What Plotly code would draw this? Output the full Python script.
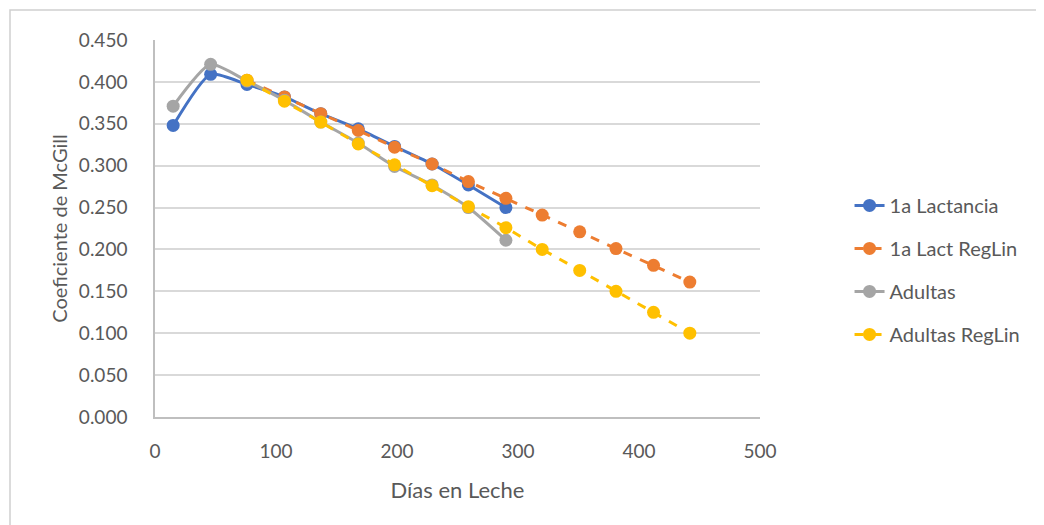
import plotly.graph_objects as go

days_obs = [15, 46, 76, 107, 137, 168, 198, 229, 259, 290]
days_reg = [76, 107, 137, 168, 198, 229, 259, 290, 320, 351, 381, 412, 442]

lact1 = [0.348, 0.409, 0.397, 0.382, 0.362, 0.344, 0.323, 0.302, 0.277, 0.250]
lact1_reg = [0.402, 0.382, 0.362, 0.342, 0.322, 0.302, 0.281, 0.261, 0.241, 0.221, 0.201, 0.181, 0.161]
adultas = [0.371, 0.421, 0.401, 0.378, 0.352, 0.327, 0.299, 0.277, 0.250, 0.211]
adultas_reg = [0.402, 0.377, 0.352, 0.326, 0.301, 0.276, 0.251, 0.226, 0.200, 0.175, 0.150, 0.125, 0.100]

y_ticks = [0.0, 0.05, 0.1, 0.15, 0.2, 0.25, 0.3, 0.35, 0.4, 0.45]
x_ticks = [0, 100, 200, 300, 400, 500]

FONT = "Lato, 'Open Sans', sans-serif"
TXT = "#595959"

W, H = 1036, 517
L, T, PW, PH = 147, 32, 605, 377

fig = go.Figure()

series = [
    ("1a Lactancia", days_obs, lact1, "#4472C4", "solid", "spline"),
    ("1a Lact RegLin", days_reg, lact1_reg, "#ED7D31", "dash", "linear"),
    ("Adultas", days_obs, adultas, "#A5A5A5", "solid", "spline"),
    ("Adultas RegLin", days_reg, adultas_reg, "#FFC000", "dash", "linear"),
]
for name, xs, ys, col, dash, shape in series:
    fig.add_trace(go.Scatter(
        x=xs, y=ys, name=name, mode="lines+markers", legendgroup=name,
        line=dict(color=col, width=3, dash=dash, shape=shape, smoothing=0.6),
        marker=dict(color=col, size=13),
    ))

fig.update_layout(
    width=W, height=H,
    margin=dict(l=L, r=W - L - PW, t=T, b=H - T - PH, autoexpand=False),
    paper_bgcolor="white", plot_bgcolor="white",
    font=dict(family=FONT, color=TXT, size=19),
    showlegend=True,
    legend=dict(
        x=1.148, y=0.39, xanchor="left", yanchor="middle",
        font=dict(family=FONT, size=20, color=TXT),
        tracegroupgap=14,
        bgcolor="rgba(0,0,0,0)",
    ),
    xaxis=dict(
        range=[0, 500], tickvals=x_ticks, ticktext=[str(v) for v in x_ticks],
        showgrid=False, zeroline=False,
        showline=True, linecolor="#BFBFBF", linewidth=1.5,
        ticks="", ticklabelstandoff=16,
        title=dict(text="Días en Leche", font=dict(family=FONT, size=22, color=TXT), standoff=22),
        tickfont=dict(family=FONT, size=19, color=TXT),
    ),
    yaxis=dict(
        range=[0, 0.45], tickvals=y_ticks, ticktext=[f"{v:.3f}" for v in y_ticks],
        showgrid=True, gridcolor="#D9D9D9", gridwidth=1.5,
        zeroline=False, showline=True, linecolor="#BFBFBF", linewidth=1.5,
        ticks="", ticklabelstandoff=22,
        title=dict(text="Coeficiente de McGill", font=dict(family=FONT, size=20, color=TXT), standoff=6),
        tickfont=dict(family=FONT, size=19, color=TXT),
    ),
)

# outer chart border (left & top visible)
fig.add_shape(type="rect", xref="paper", yref="paper",
              x0=(2 - L) / PW, x1=(W + 10 - L) / PW,
              y0=(T + PH - (H + 10)) / PH, y1=(T + PH - 2) / PH,
              line=dict(color="#D0D0D0", width=1.5), layer="below")

fig.write_html("out.html")
